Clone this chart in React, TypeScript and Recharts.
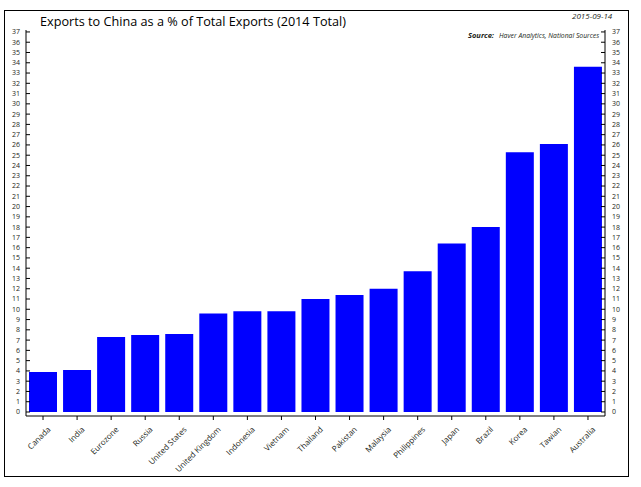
import { Bar, BarChart, XAxis, YAxis } from "recharts";

const countries = [
  "Canada",
  "India",
  "Eurozone",
  "Russia",
  "United States",
  "United Kingdom",
  "Indonesia",
  "Vietnam",
  "Thailand",
  "Pakistan",
  "Malaysia",
  "Philippines",
  "Japan",
  "Brazil",
  "Korea",
  "Tawian",
  "Australia",
];

// exports to China, % of total exports, 2014
const exportShare = [
  3.9, 4.1, 7.3, 7.5, 7.6, 9.6, 9.8, 9.8, 11.0, 11.4, 12.0, 13.7, 16.4, 18.0,
  25.3, 26.1, 33.6,
];

const yTicks = [
  0, 1, 2, 3, 4, 5, 6, 7, 8, 9, 10, 11, 12, 13, 14, 15, 16, 17, 18, 19, 20,
  21, 22, 23, 24, 25, 26, 27, 28, 29, 30, 31, 32, 33, 34, 35, 36, 37,
];

const data = countries.map((country, i) => ({
  country,
  share: exportShare[i],
}));

const font = "'Open Sans', sans-serif";
const ink = "#231f20";
const yDomain: [number, number] = [-0.39, 37.19];

const LeftTick = ({ x, y, payload }: any) => (
  <g>
    <line x1={x} x2={x + 4} y1={y} y2={y} stroke="#000" />
    <text
      x={x - 6}
      y={y}
      dy="0.35em"
      textAnchor="end"
      fontSize={7}
      fontFamily={font}
      fill={ink}
    >
      {payload.value}
    </text>
  </g>
);

const RightTick = ({ x, y, payload }: any) => (
  <g>
    <line x1={x - 4} x2={x} y1={y} y2={y} stroke="#000" />
    <text
      x={x + 7}
      y={y}
      dy="0.35em"
      textAnchor="start"
      fontSize={7}
      fontFamily={font}
      fill={ink}
    >
      {payload.value}
    </text>
  </g>
);

const CountryTick = ({ x, y, payload }: any) => (
  <g>
    <line x1={x} x2={x} y1={y} y2={y + 4} stroke="#000" />
    <text
      transform={`translate(${x + 8},${y + 14}) rotate(-45)`}
      textAnchor="end"
      fontSize={8}
      fontFamily={font}
      fill={ink}
    >
      {payload.value}
    </text>
  </g>
);

const App = () => {
  return (
    <div
      style={{
        position: "absolute",
        left: 0,
        top: 0,
        width: 641,
        height: 487,
        background: "#fff",
      }}
    >
      <div
        style={{
          position: "absolute",
          left: 4,
          top: 10,
          width: 625,
          height: 467,
          border: "1px solid #000",
          boxSizing: "border-box",
        }}
      />
      <BarChart
        width={641}
        height={487}
        data={data}
        margin={{ top: 30, right: 0, left: 0, bottom: 0 }}
        barSize={28}
      >
        <XAxis
          dataKey="country"
          interval={0}
          height={71}
          tickSize={0}
          tickMargin={0}
          tickLine={false}
          tick={<CountryTick />}
          axisLine={{ stroke: "#000" }}
        />
        <XAxis
          xAxisId="top"
          dataKey="country"
          orientation="top"
          height={0}
          tick={false}
          tickLine={false}
          axisLine={{ stroke: "#000" }}
        />
        <YAxis
          width={26}
          domain={yDomain}
          allowDataOverflow
          ticks={yTicks}
          interval={0}
          tickSize={0}
          tickMargin={0}
          tickLine={false}
          tick={<LeftTick />}
          axisLine={{ stroke: "#000" }}
        />
        <YAxis
          yAxisId="right"
          orientation="right"
          width={36}
          domain={yDomain}
          allowDataOverflow
          ticks={yTicks}
          interval={0}
          tickSize={0}
          tickMargin={0}
          tickLine={false}
          tick={<RightTick />}
          axisLine={{ stroke: "#000" }}
        />
        <Bar dataKey="share" fill="#0000ff" isAnimationActive={false} />
      </BarChart>
      <svg
        width={641}
        height={487}
        style={{ position: "absolute", left: 0, top: 0, pointerEvents: "none" }}
      >
        <text
          x={40}
          y={25.5}
          fontSize={13}
          fontFamily={font}
          fill="#000"
          textLength={306}
          lengthAdjust="spacingAndGlyphs"
        >
          Exports to China as a % of Total Exports (2014 Total)
        </text>
        <text
          x={572}
          y={18.5}
          fontSize={8}
          fontStyle="italic"
          fontFamily={font}
          fill={ink}
        >
          2015-09-14
        </text>
        <text
          x={468}
          y={37.5}
          fontSize={7.5}
          fontStyle="italic"
          fontWeight="bold"
          fontFamily={font}
          fill={ink}
        >
          Source:
        </text>
        <text
          x={499}
          y={37.5}
          fontSize={6.8}
          fontStyle="italic"
          fontFamily={font}
          fill={ink}
        >
          Haver Analytics, National Sources
        </text>
      </svg>
    </div>
  );
};

export default App;
